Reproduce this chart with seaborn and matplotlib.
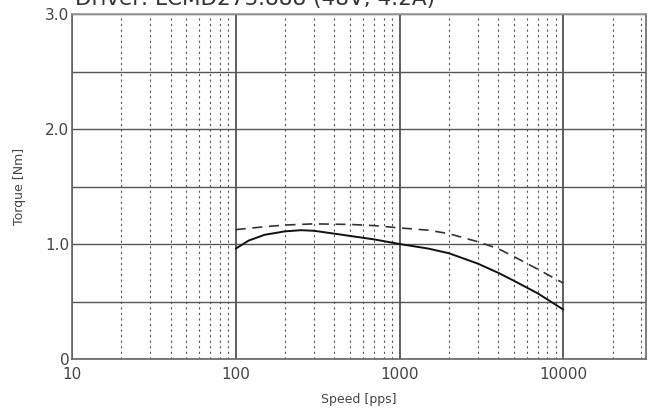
import numpy as np
import pandas as pd
import matplotlib
matplotlib.use("Agg")
import matplotlib.pyplot as plt
import seaborn as sns
from matplotlib.ticker import LogLocator, FixedLocator, NullFormatter

# Data
speed_solid = [100, 120, 150, 200, 250, 300, 400, 500, 700, 1000, 1500, 2000, 3000, 4000, 5000, 7000, 10000]
torque_solid = [0.96, 1.03, 1.08, 1.11, 1.12, 1.115, 1.09, 1.07, 1.04, 1.00, 0.96, 0.92, 0.83, 0.75, 0.68, 0.57, 0.43]
speed_dashed = [100, 150, 200, 300, 500, 700, 1000, 1500, 2000, 3000, 4000, 5000, 7000, 10000]
torque_dashed = [1.125, 1.15, 1.165, 1.175, 1.17, 1.16, 1.14, 1.12, 1.09, 1.02, 0.96, 0.89, 0.78, 0.66]

x_ticks = [10, 100, 1000, 10000]
x_ticklabels = ["10", "100", "1000", "10000"]
y_ticks = [0, 0.5, 1.0, 1.5, 2.0, 2.5, 3.0]
y_ticklabels = ["0", "", "1.0", "", "2.0", "", "3.0"]
title_text = "Driver: LCMD273.888 (48V, 4.2A)"

sns.set_style("white")
plt.rcParams['font.family'] = ['DejaVu Sans']

fig = plt.figure(figsize=(6.51, 4.12), dpi=100)
ax = fig.add_axes([72/651, 1-359/412, (646-72)/651, (359-14)/412])

df_s = pd.DataFrame({"speed": speed_solid, "torque": torque_solid})
df_d = pd.DataFrame({"speed": speed_dashed, "torque": torque_dashed})

ax.set_xscale("log")
ax.set_xlim(10, 32000)
ax.set_ylim(0, 3.0)

# Grid
ax.xaxis.set_major_locator(FixedLocator(x_ticks))
ax.xaxis.set_minor_locator(LogLocator(base=10, subs=np.arange(2, 10)))
ax.xaxis.set_minor_formatter(NullFormatter())
ax.set_xticks(x_ticks)
ax.set_xticklabels(x_ticklabels)
ax.set_yticks(y_ticks)
ax.set_yticklabels(y_ticklabels)

ax.grid(which="major", axis="x", color="#444444", linewidth=1.2, linestyle="-")
ax.grid(which="minor", axis="x", color="#555555", linewidth=0.8, linestyle=(0, (2, 3)))
ax.grid(which="major", axis="y", color="#555555", linewidth=1.0, linestyle="-")
ax.set_axisbelow(True)

sns.lineplot(data=df_d, x="speed", y="torque", ax=ax, color="#333333", linewidth=1.2,
             linestyle=(0, (6, 4)), legend=False)
sns.lineplot(data=df_s, x="speed", y="torque", ax=ax, color="#111111", linewidth=1.4,
             legend=False)

for s in ax.spines.values():
    s.set_color("#666666")
    s.set_linewidth(1.2)
ax.spines["top"].set_color("#999999")

ax.tick_params(axis="both", which="both", length=0, labelsize=11, labelcolor="#444444")
ax.tick_params(axis="x", pad=6)
ax.tick_params(axis="y", pad=2)
ax.set_xlabel("Speed [pps]", fontsize=9, color="#444444", labelpad=8)
ax.set_ylabel("Torque [Nm]", fontsize=9, color="#444444", labelpad=14)

fig.text(75/651, 1-5/412, title_text, fontsize=15.5, color="#333333", ha="left", va="baseline")

fig.savefig("out.png", dpi=100)
